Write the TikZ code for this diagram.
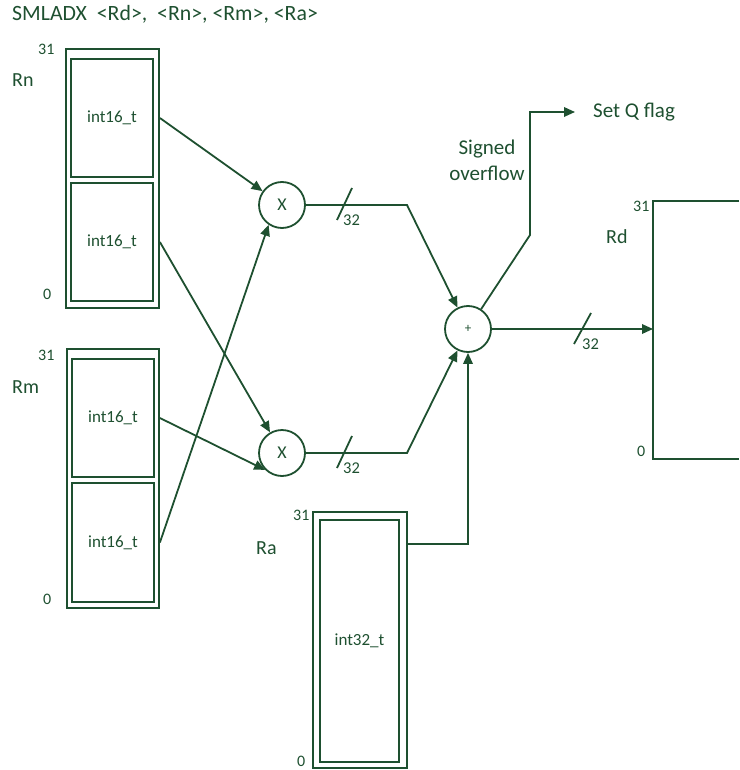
\documentclass[tikz,border=0pt]{standalone}
\usepackage{fontspec}
\setmainfont{Carlito}
\usetikzlibrary{arrows.meta,calc}
\definecolor{dg}{RGB}{30,80,48}
\begin{document}
\begin{tikzpicture}[x=1pt,y=-1pt,
  every node/.style={text=dg, inner sep=0pt},
  wire/.style={draw=dg, line width=1.8pt},
  arr/.style={wire, -{Triangle[length=11pt,width=9.5pt]}},
  regouter/.style={draw=dg, line width=1.8pt, rectangle, inner sep=0pt},
  regfield/.style={draw=dg, line width=2pt, rectangle, inner sep=0pt, font=\fontsize{17}{20}\selectfont},
  opnode/.style={draw=dg, line width=1.8pt, circle, minimum size=46pt, inner sep=0pt},
  regname/.style={anchor=base west, font=\fontsize{20}{24}\selectfont},
  bitnum/.style={anchor=base west, font=\fontsize{16}{19}\selectfont},
  widthlbl/.style={anchor=base west, font=\fontsize{16.5}{19}\selectfont},
  biglbl/.style={font=\fontsize{21}{25}\selectfont},
]
\useasboundingbox (0,0) rectangle (739,770);

% title
\node[anchor=base west, font=\fontsize{21.8}{26}\selectfont] (title) at (12,21) {SMLADX\ \ <Rd>,\ \ <Rn>, <Rm>, <Ra>};

% Rn register
\node[regouter, minimum width=93pt, minimum height=259pt] (rn) at (112.5,178.5) {};
\node[regfield, minimum width=82pt, minimum height=118pt] (rnhi) at (112,118) {int16\_t};
\node[regfield, minimum width=82pt, minimum height=118pt] (rnlo) at (112,242) {int16\_t};
\node[regname] (rnname) at (12,87) {Rn};
\node[bitnum] (rn31) at (38,55) {31};
\node[bitnum] (rn0) at (43,299) {0};

% Rm register
\node[regouter, minimum width=92pt, minimum height=259pt] (rm) at (113,478.5) {};
\node[regfield, minimum width=82pt, minimum height=118pt] (rmhi) at (113,418) {int16\_t};
\node[regfield, minimum width=82pt, minimum height=119pt] (rmlo) at (113,542.5) {int16\_t};
\node[regname] (rmname) at (12,393) {Rm};
\node[bitnum] (rm31) at (38,360) {31};
\node[bitnum] (rm0) at (43,604) {0};

% Ra register
\node[regouter, minimum width=94pt, minimum height=256pt] (ra) at (360,640) {};
\node[regfield, minimum width=79pt, minimum height=242pt] (rafield) at (359.5,641) {int32\_t};
\node[regname] (raname) at (256,554) {Ra};
\node[bitnum] (ra31) at (293,520) {31};
\node[bitnum] (ra0) at (297,766) {0};

% Rd register (open on the right)
\draw[wire] (739,201) -- (653,201) -- (653,459) -- (739,459);
\coordinate (rdin) at (653,329);
\node[regname] (rdname) at (606,243) {Rd};
\node[bitnum] (rd31) at (633,211) {31};
\node[bitnum] (rd0) at (637,456) {0};

% operators
\node[opnode, font=\fontsize{18}{21}\selectfont] (m1) at (282,205) {X};
\node[opnode, font=\fontsize{18}{21}\selectfont] (m2) at (282,453) {X};
\node[opnode, font=\fontsize{13}{15}\selectfont] (add) at (468,329) {+};

% inputs to multipliers
\draw[arr] (rn.east |- rnhi) -- (m1);
\draw[arr] (rn.east |- rnlo) -- (m2);
\draw[arr] (rm.east |- rmhi) -- (m2.225);
\draw[arr] (rm.east |- rmlo) -- (m1.236);

% multiplier outputs to adder
\coordinate (k1) at (407,205);
\coordinate (k2) at (407,453);
\draw[arr] (m1) -- (k1) -- (add);
\draw[arr] (m2) -- (k2) -- (add);

% Ra to adder
\path (ra.north east) ++(0,33) coordinate (raout);
\draw[arr] (raout) -| (add.south);

% adder to Rd
\draw[arr] (add) -- (rdin);

% signed overflow
\coordinate (ov1) at (530,235);
\coordinate (ov2) at (530,112);
\coordinate (setqin) at (575,112);
\draw[arr] (add) -- (ov1) -- (ov2) -- (setqin);
\node[biglbl, anchor=base west] (setq) at (593,118) {Set Q flag};
\node[biglbl, anchor=base] (signed) at (487,155) {Signed};
\node[biglbl, anchor=base] (overflow) at (487,181) {overflow};

% width marks
\coordinate (s1) at (344.5,204);
\draw[wire] ([shift={(-7.5,16)}]s1) -- ([shift={(7.5,-16)}]s1);
\node[widthlbl] (w1) at (343,225) {32};
\coordinate (s2) at (344.5,452);
\draw[wire] ([shift={(-7.5,16)}]s2) -- ([shift={(7.5,-16)}]s2);
\node[widthlbl] (w2) at (343,473) {32};
\coordinate (s3) at (582.5,329);
\draw[wire] ([shift={(-8.5,15)}]s3) -- ([shift={(8.5,-16)}]s3);
\node[widthlbl] (w3) at (582,349) {32};
\end{tikzpicture}
\end{document}
